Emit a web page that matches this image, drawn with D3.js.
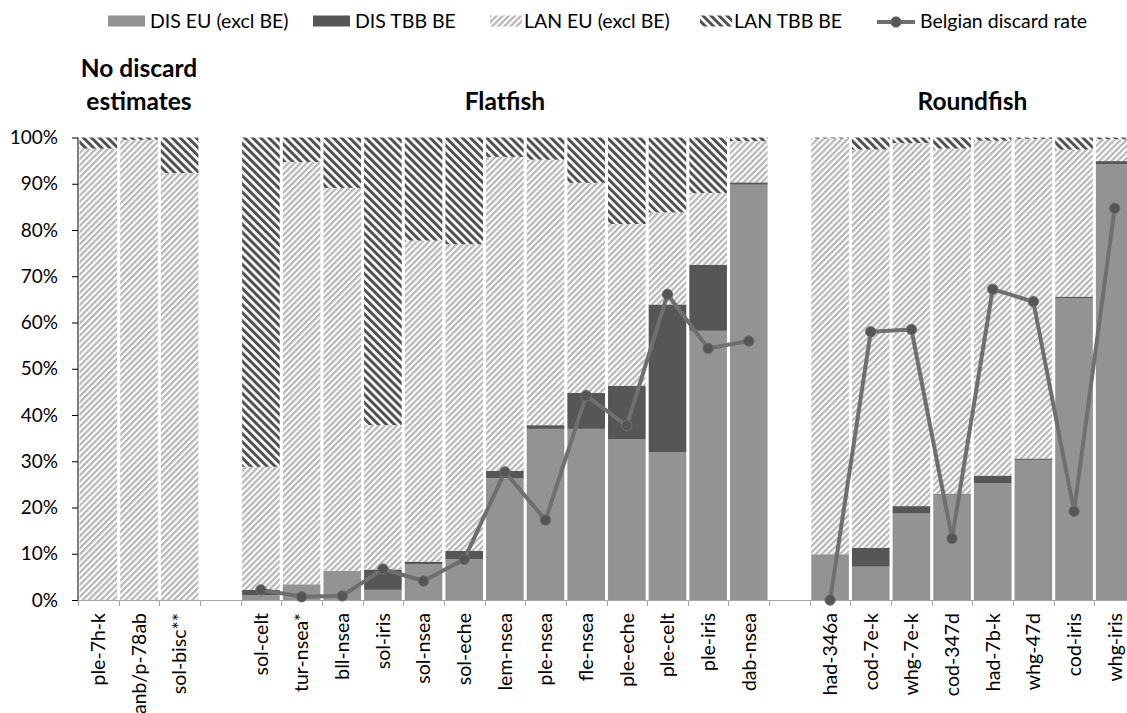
<!DOCTYPE html>
<html><head><meta charset="utf-8">
<script src="https://cdn.jsdelivr.net/npm/d3@7"></script>
<style>
html,body{margin:0;padding:0;background:#fff;}
svg{display:block;font-family:Lato,"Open Sans",sans-serif;}
</style></head>
<body>
<svg id="chart" width="1127" height="713"></svg>
<script>
// ---- data (percent) ----
const categories = ["ple-7h-k","anb/p-78ab","sol-bisc**",null,"sol-celt","tur-nsea*","bll-nsea","sol-iris","sol-nsea","sol-eche","lem-nsea","ple-nsea","fle-nsea","ple-eche","ple-celt","ple-iris","dab-nsea",null,"had-346a","cod-7e-k","whg-7e-k","cod-347d","had-7b-k","whg-47d","cod-iris","whg-iris"];
const disEU  = [0,0,0,null, 1.0,3.4,6.3,2.2,7.7,8.8,26.3,37.0,37.0,34.8,32.0,58.2,89.8,null, 9.9,7.2,18.7,22.8,25.2,30.3,65.2,94.2];
const disTBB = [0,0,0,null, 1.2,0,0,4.4,0.6,1.8,1.6,0.8,7.8,11.5,31.9,14.3,0.5,null, 0,4.1,1.6,0.2,1.7,0.3,0.4,0.7];
const lanEU  = [97.6,99.5,92.3,null, 26.6,91.3,82.8,31.2,69.4,66.3,67.9,57.4,45.4,35.0,19.9,15.5,8.9,null, 89.9,86.1,78.5,74.6,72.4,69.1,31.8,4.7];
const lanTBB = [2.4,0.5,7.7,null, 71.2,5.3,10.9,62.2,22.3,23.1,4.2,4.8,9.8,18.7,16.2,12.0,0.8,null, 0.2,2.6,1.2,2.4,0.7,0.3,2.6,0.4];
const rate   = [null,null,null,null, 2.2,0.7,0.9,6.7,4.1,8.8,27.7,17.3,44.2,37.7,66.1,54.4,56.0,null, 0,58.0,58.5,13.3,67.2,64.5,19.2,84.7];
const yTicks = [0,10,20,30,40,50,60,70,80,90,100];
const groups = [
  {lines:["No discard","estimates"], from:0, to:2},
  {lines:["Flatfish"], from:4, to:16},
  {lines:["Roundfish"], from:18, to:25}
];
const seriesNames = ["DIS EU (excl BE)","DIS TBB BE","LAN EU (excl BE)","LAN TBB BE","Belgian discard rate"];

// ---- setup ----
const svg = d3.select("#chart");
const L = 78, R = 1135, T = 137.5, B = 600;
const idx = categories.map((d,i)=>i);
const x = d3.scaleBand().domain(idx).range([L,R]).paddingInner(0.075).paddingOuter(0.0375);
const y = d3.scaleLinear().domain([0,100]).range([B,T]);

const defs = svg.append("defs");
function hatch(id, color, period, width, angle){
  const p = defs.append("pattern").attr("id",id).attr("patternUnits","userSpaceOnUse")
    .attr("width",period).attr("height",period).attr("patternTransform",`rotate(${angle})`);
  p.append("rect").attr("width",period).attr("height",period).attr("fill","#fff");
  p.append("rect").attr("x",0).attr("width",width).attr("height",period).attr("fill",color);
}
hatch("hLanEU","#b8b8b8",4.3,2.3,45);
hatch("hLanTBB","#505050",5.7,3.0,-45);

const fills = ["#939393","#565656","url(#hLanEU)","url(#hLanTBB)"];
const rows = idx.filter(i=>categories[i]!==null).map(i=>({i, s:[disEU[i],disTBB[i],lanEU[i],lanTBB[i]]}));
const stack = d3.stack().keys([0,1,2,3]).value((d,k)=>d.s[k]);
const layers = stack(rows);

layers.forEach((layer,k)=>{
  svg.append("g").selectAll("rect").data(layer).join("rect")
    .attr("x",d=>x(d.data.i))
    .attr("width",x.bandwidth())
    .attr("y",d=>y(d[1]))
    .attr("height",d=>Math.max(0,y(d[0])-y(d[1])))
    .attr("fill",fills[k]);
});

// axes
const yAxis = svg.append("g").attr("transform",`translate(${L},0)`)
  .call(d3.axisLeft(y).tickValues(yTicks).tickFormat(d=>d+"%").tickSize(6).tickPadding(14));
yAxis.select(".domain").attr("stroke","#000").attr("d",`M0,${B}V${T}`);
yAxis.selectAll(".tick line").attr("stroke","#000");
yAxis.selectAll("text").attr("font-size",19).attr("fill","#000").attr("font-family","Lato");

// x axis: line + ticks at slot boundaries
const xg = svg.append("g");
xg.append("line").attr("x1",L).attr("x2",R).attr("y1",B+0.5).attr("y2",B+0.5).attr("stroke","#a6a6a6").attr("stroke-width",1);
const step = x.step();
const bounds = d3.range(idx.length+1).map(k=>L + k*step);
xg.selectAll(".xt").data(bounds).join("line").attr("class","xt")
  .attr("x1",d=>Math.round(d)+0.5).attr("x2",d=>Math.round(d)+0.5).attr("y1",B).attr("y2",B+6)
  .attr("stroke","#a6a6a6");
xg.selectAll(".xl").data(idx.filter(i=>categories[i]!==null)).join("text").attr("class","xl")
  .attr("transform",i=>`translate(${x(i)+x.bandwidth()/2},${B+13}) rotate(-90)`)
  .attr("text-anchor","end").attr("dy","0.35em")
  .attr("font-size",19.5).attr("fill","#000")
  .text(i=>categories[i]);

// line
const line = d3.line().defined(i=>rate[i]!==null).x(i=>x(i)+x.bandwidth()/2).y(i=>y(rate[i]));
svg.append("path").datum(idx).attr("d",line).attr("fill","none").attr("stroke","#6f6f6f").attr("stroke-width",4).attr("stroke-linejoin","round");
svg.append("g").selectAll("circle").data(idx.filter(i=>rate[i]!==null)).join("circle")
  .attr("cx",i=>x(i)+x.bandwidth()/2).attr("cy",i=>y(rate[i])).attr("r",5.2)
  .attr("fill","#555").attr("stroke","#6f6f6f").attr("stroke-width",1);

// group titles
groups.forEach(g=>{
  const cx = (x(g.from) + x(g.to)+x.bandwidth())/2;
  const n = g.lines.length;
  g.lines.forEach((t,j)=>{
    svg.append("text").attr("x",cx).attr("y",110 - (n-1-j)*33.3)
      .attr("text-anchor","middle").attr("font-weight","bold").attr("font-size",24.5).attr("fill","#000").text(t);
  });
});

// legend
const legX = [108,313,490,700,877];
const lg = svg.append("g");
[0,1,2,3].forEach(k=>{
  lg.append("rect").attr("x",legX[k]).attr("y",15.5).attr("width",k<2?37:32).attr("height",11).attr("fill",fills[k]);
  lg.append("text").attr("x",legX[k]+(k<2?42:34)).attr("y",21).attr("dy","0.35em").attr("font-size",19.5).attr("fill","#000").text(seriesNames[k]);
});
lg.append("line").attr("x1",legX[4]).attr("x2",legX[4]+38).attr("y1",22).attr("y2",22).attr("stroke","#6f6f6f").attr("stroke-width",4);
lg.append("circle").attr("cx",legX[4]+19).attr("cy",22).attr("r",5.2).attr("fill","#555").attr("stroke","#6f6f6f");
lg.append("text").attr("x",legX[4]+43).attr("y",21).attr("dy","0.35em").attr("font-size",19.5).attr("fill","#000").text(seriesNames[4]);
</script>
</body></html>
